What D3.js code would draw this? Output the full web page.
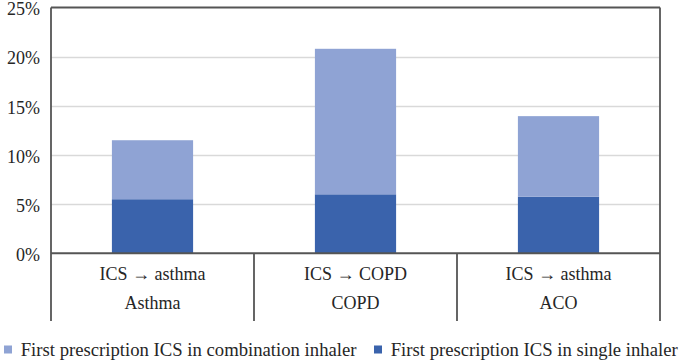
<!DOCTYPE html>
<html>
<head>
<meta charset="utf-8">
<script src="https://cdn.jsdelivr.net/npm/d3@7"></script>
<style>
  body { margin: 0; background: #fff; }
  svg { display: block; }
</style>
</head>
<body>
<svg id="chart" width="685" height="363" font-family="Liberation Serif"></svg>
<script>
const groups = ["Asthma", "COPD", "ACO"];
const subLabels = ["ICS \u2192 asthma", "ICS \u2192 COPD", "ICS \u2192 asthma"];
const singleInhaler = [5.5, 6.0, 5.75];
const combinationInhaler = [6.0, 14.8, 8.2];
const seriesNames = ["First prescription ICS in combination inhaler", "First prescription ICS in single inhaler"];
const seriesColors = ["#8FA3D4", "#3A63AC"];
const yTicks = [0, 5, 10, 15, 20, 25];

const FONT = "Liberation Serif";
const TXT = "#262626";
const svg = d3.select("#chart");
const m = { left: 51, right: 660, top: 7.5, base: 253.3, bottom: 321 };

const x = d3.scaleBand().domain(d3.range(groups.length)).range([m.left, m.right]).paddingInner(0).paddingOuter(0);
const y = d3.scaleLinear().domain([0, 25]).range([m.base, m.top]);

// gridlines
svg.append("g").selectAll("line").data(yTicks.slice(1, -1)).join("line")
  .attr("x1", m.left).attr("x2", m.right)
  .attr("y1", d => Math.round(y(d)) + 0.5).attr("y2", d => Math.round(y(d)) + 0.5)
  .attr("stroke", "#D9D9D9").attr("stroke-width", 1.3);

// bars
const bw = x.bandwidth() * 0.4;
const stackData = groups.map((g, i) => ({ i, single: singleInhaler[i], comb: combinationInhaler[i] }));
const stack = d3.stack().keys(["single", "comb"])(stackData);
const colorFor = { single: seriesColors[1], comb: seriesColors[0] };
svg.append("g").selectAll("g").data(stack).join("g")
  .attr("fill", d => colorFor[d.key])
  .selectAll("rect").data(d => d).join("rect")
  .attr("x", d => x(d.data.i) + (x.bandwidth() - bw) / 2)
  .attr("width", bw)
  .attr("y", d => y(d[1]))
  .attr("height", d => y(d[0]) - y(d[1]));

// frame
const axisColor = "#555";
const frame = svg.append("g").attr("stroke", axisColor).attr("stroke-width", 1.8).attr("fill", "none");
frame.append("line").attr("x1", m.left).attr("x2", m.right).attr("y1", m.top).attr("y2", m.top);
frame.append("line").attr("x1", m.left).attr("x2", m.left).attr("y1", m.top).attr("y2", m.bottom);
frame.append("line").attr("x1", m.right).attr("x2", m.right).attr("y1", m.top).attr("y2", m.bottom);
frame.append("line").attr("x1", m.left).attr("x2", m.right).attr("y1", m.base).attr("y2", m.base).attr("stroke-width", 2);
frame.selectAll("line.div").data(d3.range(1, groups.length)).join("line").attr("class", "div")
  .attr("x1", d => x(d)).attr("x2", d => x(d)).attr("y1", m.base).attr("y2", m.bottom);

// y axis labels
const yAxis = d3.axisLeft(y).tickValues(yTicks).tickFormat(d => d + "%").tickSize(0).tickPadding(11);
const ya = svg.append("g").attr("transform", `translate(${m.left},1.5)`).call(yAxis)
  .attr("font-family", FONT).attr("font-size", 18);
ya.select(".domain").remove();
ya.selectAll("text").attr("font-family", FONT).attr("font-size", 18).attr("fill", TXT);

// category labels
const cat = svg.append("g").attr("font-family", FONT).attr("font-size", 18);
cat.selectAll("text.sub").data(subLabels).join("text").attr("class", "sub")
  .attr("x", (d, i) => x(i) + x.bandwidth() / 2).attr("y", 280.3).text(d => d);
cat.selectAll("text.grp").data(groups).join("text").attr("class", "grp")
  .attr("x", (d, i) => x(i) + x.bandwidth() / 2).attr("y", 308.7).text(d => d);
cat.selectAll("text").attr("text-anchor", "middle")
  .attr("font-family", FONT).attr("font-size", 18).attr("fill", TXT);

// legend
const leg = svg.append("g").attr("font-family", FONT).attr("font-size", 18.7);
const legX = [4, 374];
seriesNames.forEach((n, i) => {
  leg.append("rect").attr("x", legX[i]).attr("y", 345.5).attr("width", 8).attr("height", 8).attr("fill", seriesColors[i]);
  leg.append("text").attr("x", legX[i] + 16.7).attr("y", 355.7).text(n)
    .attr("font-family", FONT).attr("font-size", 18.7).attr("fill", TXT);
});
</script>
</body>
</html>
